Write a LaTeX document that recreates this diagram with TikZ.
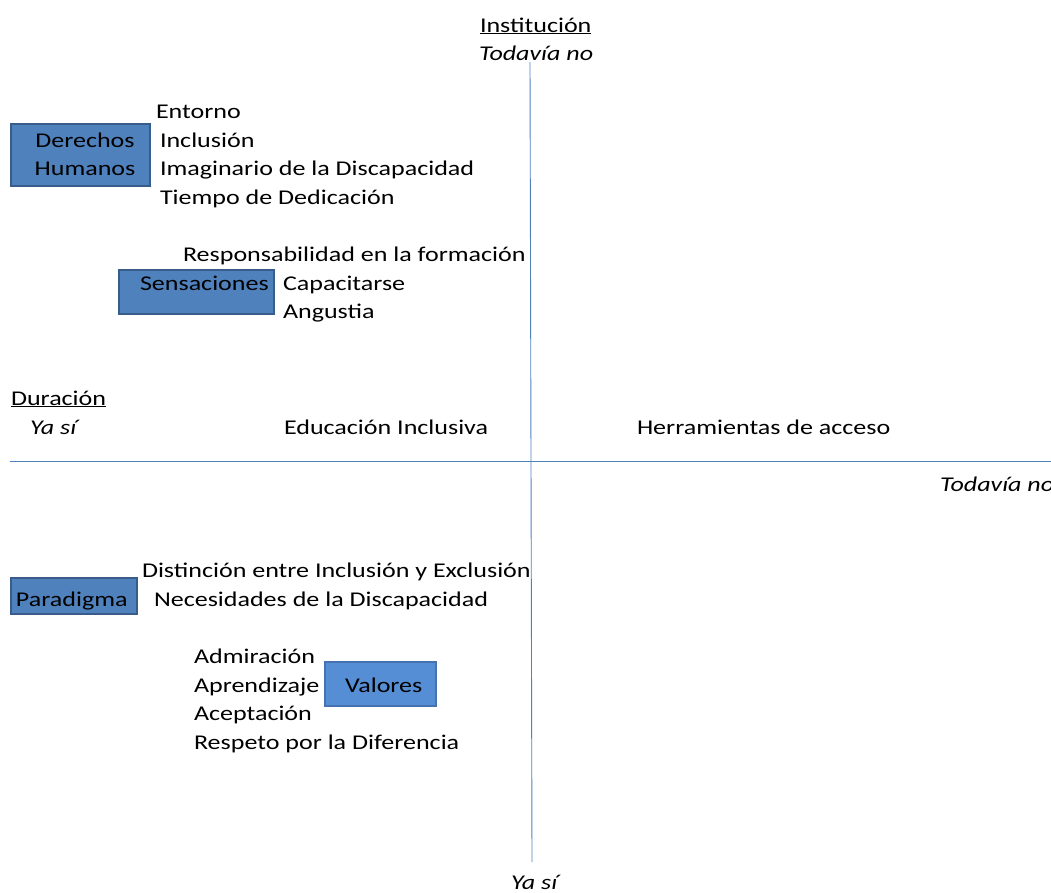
\documentclass[tikz,border=0pt]{standalone}
\usepackage{fontspec}
\setmainfont[FakeStretch=1.24]{Carlito}
\definecolor{boxfill}{RGB}{79,129,189}
\definecolor{boxline}{RGB}{56,93,138}
\definecolor{valfill}{RGB}{85,142,213}
\definecolor{valline}{RGB}{70,115,175}
\definecolor{axis}{RGB}{79,129,189}
\begin{document}
\begin{tikzpicture}[x=1pt,y=-1pt,
  every node/.style={font=\fontsize{21}{24}\selectfont, inner sep=0pt, outer sep=0pt},
  lbl/.style={anchor=base west},
  box/.style={draw=boxline, line width=1.5pt, fill=boxfill, rectangle},
  vbox/.style={draw=valline, line width=1.5pt, fill=valfill, rectangle},
  axisline/.style={draw=axis, line width=0.9pt}]
\useasboundingbox (0,0) rectangle (1051,892);
% axes
\coordinate (vtop) at (530,62);
\coordinate (vbot) at (532,862);
\coordinate (hl) at (10,461);
\coordinate (hr) at (1051,461);
\draw[axisline] (vtop) -- (vbot);
\draw[axisline] (hl) -- (hr);
% axis labels
\node[lbl] (inst) at (480,32) {\underline{Institución}};
\node[lbl] (tn1) at (479,60) {\itshape Todavía no};
\node[lbl] (dur) at (11,405) {\underline{Duración}};
\node[lbl] (ys1) at (30,434) {\itshape Ya sí};
\node[lbl] (tn2) at (940,491) {\itshape Todavía no};
\node[lbl] (ys2) at (511,889) {\itshape Ya sí};
% boxes
\node[box, minimum width=139pt, minimum height=62pt, anchor=north west] (dh) at (11,124) {};
\node[anchor=base] (dht1) at (85,147) {Derechos};
\node[anchor=base] (dht2) at (85,175) {Humanos};
\node[box, minimum width=155pt, minimum height=44pt, anchor=north west] (sen) at (119,270) {};
\node[anchor=base west] (sent) at (140,290) {Sensaciones};
\node[box, minimum width=126pt, minimum height=36pt, anchor=north west] (par) at (11,578) {};
\node[anchor=base west] (part) at (16,606) {Paradigma};
\node[vbox, minimum width=111pt, minimum height=44pt, anchor=north west] (val) at (325,662) {};
\node[anchor=base west] (valt) at (345,692) {Valores};
% texts
\node[lbl] (t1) at (156,118) {Entorno};
\node[lbl] (t2) at (160,147) {Inclusión};
\node[lbl] (t3) at (160,175) {Imaginario de la Discapacidad};
\node[lbl] (t4) at (160,204) {Tiempo de Dedicación};
\node[lbl] (t5) at (183,261) {Responsabilidad en la formación};
\node[lbl] (t6) at (283,290) {Capacitarse};
\node[lbl] (t7) at (283,318) {Angustia};
\node[lbl] (t8) at (284,434) {Educación Inclusiva};
\node[lbl] (t9) at (637,434) {Herramientas de acceso};
\node[lbl] (t10) at (142,577) {Distinción entre Inclusión y Exclusión};
\node[lbl] (t11) at (154,606) {Necesidades de la Discapacidad};
\node[lbl] (t12) at (194,663) {Admiración};
\node[lbl] (t13) at (194,692) {Aprendizaje};
\node[lbl] (t14) at (194,720) {Aceptación};
\node[lbl] (t15) at (194,749) {Respeto por la Diferencia};
\end{tikzpicture}
\end{document}
